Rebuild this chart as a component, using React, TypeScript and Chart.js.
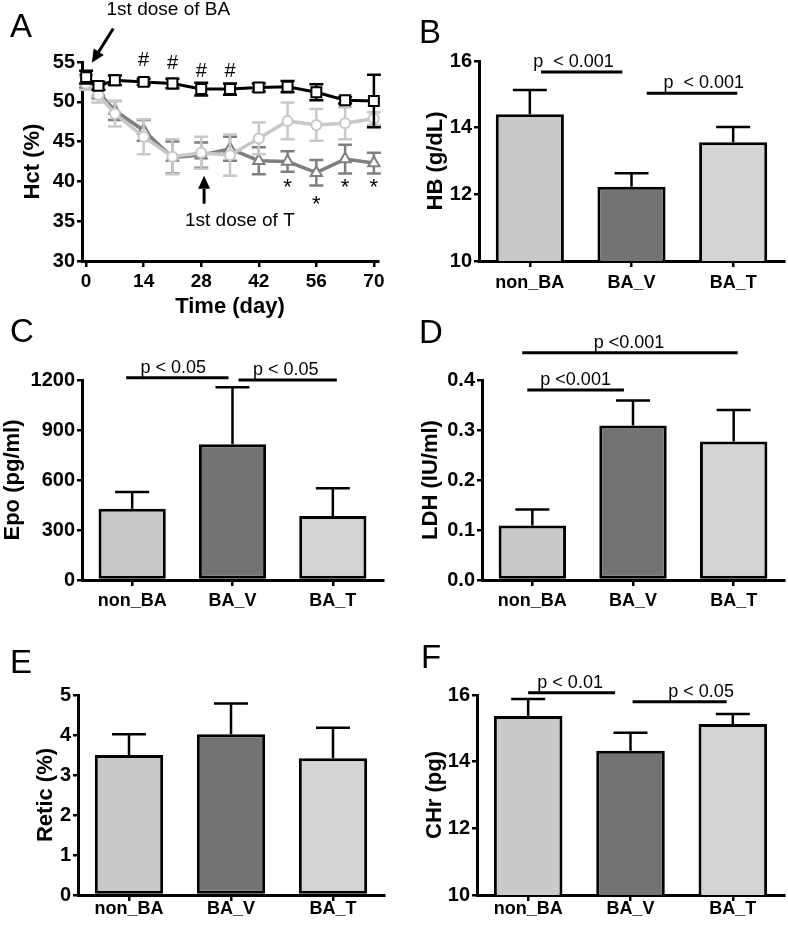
import React, { useEffect, useRef } from 'react';
import { Chart, registerables } from 'chart.js';
Chart.register(...registerables);

const FONT = '"Liberation Sans", Arial, Helvetica, sans-serif';
Chart.defaults.color = '#000';
Chart.defaults.font.family = FONT;

// ---------------- Panel A: Hct time course ----------------
const days = [0, 3, 7, 14, 21, 28, 35, 42, 49, 56, 63, 70];
const hctNonBA = [53.1, 52.0, 52.7, 52.5, 52.3, 51.6, 51.6, 51.8, 51.9, 51.2, 50.2, 50.1];
const hctNonBAErr = [0.8, 0.5, 0.6, 0.4, 0.6, 0.8, 0.7, 0.5, 0.7, 1.0, 0.4, 3.3];
const hctBAT = [52.3, 50.9, 48.5, 45.6, 43.1, 43.6, 43.3, 45.4, 47.6, 47.1, 47.3, 47.9];
const hctBATErr = [0.8, 1.0, 1.6, 2.2, 2.2, 2.0, 2.6, 2.0, 2.3, 2.0, 2.0, 0.8];
const hctBAV = [52.6, 51.2, 48.9, 46.4, 43.0, 43.3, 44.1, 42.6, 42.5, 41.1, 42.8, 42.3];
const hctBAVErr = [0.8, 0.8, 1.2, 1.3, 2.0, 1.6, 1.5, 1.7, 1.3, 1.6, 1.8, 1.3];
const hctXTicks = [0, 14, 28, 42, 56, 70];
const hashDays = [14, 21, 28, 35];
const hashValues = [55.2, 54.8, 53.8, 53.8];
const starDays = [49, 56, 63, 70];
const starValues = [39.7, 37.6, 39.7, 39.7];

// ---------------- Bar panels ----------------
const groups = ['non_BA', 'BA_V', 'BA_T'];
const groupColors = ['#c9c9c9', '#737373', '#d4d4d4'];

const hb = [14.4, 12.23, 13.56];
const hbErr = [0.73, 0.4, 0.46];
const epo = [428, 814, 384];
const epoErr = [100, 342, 166];
const ldh = [0.109, 0.309, 0.277];
const ldhErr = [0.032, 0.05, 0.063];
const retic = [3.5, 4.02, 3.42];
const reticErr = [0.52, 0.77, 0.76];
const chr = [15.37, 14.33, 15.13];
const chrErr = [0.51, 0.54, 0.3];

type Sig = { from: number; to: number; y: number; text: string; tx: number };
const hbSig: Sig[] = [
  { from: 0.11, to: 0.91, y: 15.67, text: 'p  < 0.001', tx: 0.43 },
  { from: 1.15, to: 2.04, y: 15.03, text: 'p  < 0.001', tx: 1.71 },
];
const epoSig: Sig[] = [
  { from: -0.06, to: 0.96, y: 1214, text: 'p < 0.05', tx: 0.41 },
  { from: 1.06, to: 2.04, y: 1200, text: 'p < 0.05', tx: 1.53 },
];
const ldhSig: Sig[] = [
  { from: -0.05, to: 0.91, y: 0.38, text: 'p <0.001', tx: 0.43 },
  { from: -0.1, to: 2.04, y: 0.4545, text: 'p <0.001', tx: 0.96 },
];
const reticSig: Sig[] = [];
const chrSig: Sig[] = [
  { from: 0.0, to: 0.85, y: 16.07, text: 'p < 0.01', tx: 0.41 },
  { from: 1.02, to: 1.94, y: 15.8, text: 'p < 0.05', tx: 1.69 },
];

const xTickFont = { family: FONT, size: 18, weight: 'bold' as const };
const yTickFont = { family: FONT, size: 20, weight: 'bold' as const };
const titleFont = { family: FONT, size: 22, weight: 'bold' as const };

function axisCommon(tickLength: number) {
  return {
    grid: { display: true, drawOnChartArea: false, drawTicks: true, tickLength, color: '#000', lineWidth: 2.5, offset: false },
    border: { display: true, color: '#000', width: 3 },
  };
}

function drawArrow(ctx: CanvasRenderingContext2D, x1: number, y1: number, x2: number, y2: number) {
  const ang = Math.atan2(y2 - y1, x2 - x1);
  const hl = 13, hw = 6;
  const bx = x2 - hl * Math.cos(ang), by = y2 - hl * Math.sin(ang);
  ctx.beginPath();
  ctx.moveTo(x1, y1);
  ctx.lineTo(bx, by);
  ctx.stroke();
  ctx.beginPath();
  ctx.moveTo(x2, y2);
  ctx.lineTo(bx + hw * Math.sin(ang), by - hw * Math.cos(ang));
  ctx.lineTo(bx - hw * Math.sin(ang), by + hw * Math.cos(ang));
  ctx.closePath();
  ctx.fill();
}

function HctPanel() {
  const ref = useRef<HTMLCanvasElement>(null);
  useEffect(() => {
    const errs = [hctNonBAErr, hctBATErr, hctBAVErr];
    const plugin = {
      id: 'hctExtras',
      beforeDatasetDraw(chart: any, args: any) {
        const i = args.index;
        const ds = chart.data.datasets[i];
        const meta = chart.getDatasetMeta(i);
        const y = chart.scales.y;
        const ctx = chart.ctx;
        ctx.save();
        ctx.strokeStyle = ds.borderColor;
        ctx.lineWidth = 2.5;
        meta.data.forEach((pt: any, k: number) => {
          const v = ds.data[k].y;
          const e = errs[i][k];
          const yt = y.getPixelForValue(v + e);
          const yb = y.getPixelForValue(v - e);
          ctx.beginPath();
          ctx.moveTo(pt.x, yt); ctx.lineTo(pt.x, yb);
          ctx.moveTo(pt.x - 7, yt); ctx.lineTo(pt.x + 7, yt);
          ctx.moveTo(pt.x - 7, yb); ctx.lineTo(pt.x + 7, yb);
          ctx.stroke();
        });
        ctx.restore();
      },
      afterDraw(chart: any) {
        const { ctx } = chart;
        const x = chart.scales.x, y = chart.scales.y;
        ctx.save();
        ctx.fillStyle = '#000';
        ctx.strokeStyle = '#000';
        ctx.textAlign = 'center';
        ctx.textBaseline = 'middle';
        ctx.font = `20px ${FONT}`;
        hashDays.forEach((d, k) => ctx.fillText('#', x.getPixelForValue(d), y.getPixelForValue(hashValues[k])));
        ctx.font = `22px ${FONT}`;
        starDays.forEach((d, k) => ctx.fillText('*', x.getPixelForValue(d), y.getPixelForValue(starValues[k]) + 4));
        ctx.font = `19px ${FONT}`;
        ctx.fillText('1st dose of BA', x.getPixelForValue(20), y.getPixelForValue(61.5));
        ctx.fillText('1st dose of T', x.getPixelForValue(37.4), y.getPixelForValue(35.1));
        ctx.lineWidth = 3;
        drawArrow(ctx, x.getPixelForValue(6.6), y.getPixelForValue(59.2), x.getPixelForValue(1.4), y.getPixelForValue(54.9));
        drawArrow(ctx, x.getPixelForValue(28.7), y.getPixelForValue(37.2), x.getPixelForValue(28.7), y.getPixelForValue(40.7));
        ctx.restore();
      },
    };
    const mk = (vals: number[]) => vals.map((v, i) => ({ x: days[i], y: v }));
    const chart = new Chart(ref.current!, {
      type: 'line',
      data: {
        datasets: [
          { data: mk(hctNonBA), borderColor: '#000', borderWidth: 3, pointStyle: 'rect', pointRadius: 7, pointBorderWidth: 2, pointBackgroundColor: '#fff', pointBorderColor: '#000', clip: false } as any,
          { data: mk(hctBAT), borderColor: '#c8c8c8', borderWidth: 3.5, pointStyle: 'circle', pointRadius: 5, pointBorderWidth: 2, pointBackgroundColor: '#fff', pointBorderColor: '#c8c8c8', clip: false } as any,
          { data: mk(hctBAV), borderColor: '#7f7f7f', borderWidth: 3.5, pointStyle: 'triangle', pointRadius: 6.5, pointBorderWidth: 2, pointBackgroundColor: '#fff', pointBorderColor: '#7f7f7f', clip: false } as any,
        ],
      },
      options: {
        animation: false,
        responsive: false,
        devicePixelRatio: 1,
        layout: { padding: { left: 20, top: 62, right: 16, bottom: 0 } },
        plugins: { legend: { display: false }, tooltip: { enabled: false } },
        scales: {
          x: {
            type: 'linear', min: -1, max: 71,
            afterBuildTicks: (s: any) => { s.ticks = hctXTicks.map((v) => ({ value: v })); },
            ticks: { font: { ...xTickFont, size: 19 }, color: '#000', padding: 3, maxRotation: 0 },
            ...axisCommon(6),
            title: { display: true, text: 'Time (day)', font: titleFont, color: '#000', padding: 0 },
            afterFit: (s: any) => { s.height = 59; },
          },
          y: {
            min: 30, max: 55,
            ticks: { stepSize: 5, font: yTickFont, color: '#000', padding: 2 },
            ...axisCommon(5),
            title: { display: true, text: 'Hct (%)', font: titleFont, color: '#000', padding: 0 },
            afterFit: (s: any) => { s.width = 62; },
          },
        } as any,
      },
      plugins: [plugin],
    });
    return () => chart.destroy();
  }, []);
  return <canvas ref={ref} width={394} height={320} style={{ position: 'absolute', left: 0, top: 0, width: 394, height: 320 }} />;
}

type BarProps = {
  box: { left: number; top: number; w: number; h: number };
  pad: { left: number; top: number; right: number; bottom: number };
  yW: number; xH: number; xPad: number;
  values: number[]; errs: number[];
  yMin: number; yMax: number; step: number; dec: number;
  title: string; sigs: Sig[];
};

function BarPanel(p: BarProps) {
  const ref = useRef<HTMLCanvasElement>(null);
  useEffect(() => {
    const plugin = {
      id: 'barExtras',
      afterDatasetsDraw(chart: any) {
        const { ctx } = chart;
        const x = chart.scales.x, y = chart.scales.y;
        const meta = chart.getDatasetMeta(0);
        ctx.save();
        ctx.strokeStyle = '#000';
        ctx.fillStyle = '#000';
        ctx.lineWidth = 2.5;
        meta.data.forEach((bar: any, i: number) => {
          const yt = y.getPixelForValue(p.values[i] + p.errs[i]);
          ctx.beginPath();
          ctx.moveTo(bar.x, bar.y);
          ctx.lineTo(bar.x, yt);
          ctx.moveTo(bar.x - 17, yt);
          ctx.lineTo(bar.x + 17, yt);
          ctx.stroke();
        });
        ctx.lineWidth = 3;
        ctx.font = `18px ${FONT}`;
        ctx.textAlign = 'center';
        ctx.textBaseline = 'alphabetic';
        p.sigs.forEach((s) => {
          const yy = y.getPixelForValue(s.y);
          ctx.beginPath();
          ctx.moveTo(x.getPixelForValue(s.from), yy);
          ctx.lineTo(x.getPixelForValue(s.to), yy);
          ctx.stroke();
          ctx.fillText(s.text, x.getPixelForValue(s.tx), yy - 5);
        });
        ctx.restore();
      },
    };
    const chart = new Chart(ref.current!, {
      type: 'bar',
      data: {
        labels: groups,
        datasets: [{
          data: p.values, backgroundColor: groupColors, borderColor: '#000', borderWidth: 3,
          borderSkipped: false, barPercentage: 0.67, categoryPercentage: 1,
        }],
      },
      options: {
        animation: false,
        responsive: false,
        devicePixelRatio: 1,
        layout: { padding: p.pad },
        plugins: { legend: { display: false }, tooltip: { enabled: false } },
        scales: {
          x: {
            offset: true,
            ticks: { font: xTickFont, color: '#000', padding: p.xPad, maxRotation: 0 },
            ...axisCommon(6),
            afterFit: (s: any) => { s.height = p.xH; },
          },
          y: {
            min: p.yMin, max: p.yMax,
            ticks: { stepSize: p.step, font: yTickFont, color: '#000', padding: 2, callback: (v: any) => Number(v).toFixed(p.dec) },
            ...axisCommon(5),
            title: { display: true, text: p.title, font: titleFont, color: '#000', padding: 0 },
            afterFit: (s: any) => { s.width = p.yW; },
          },
        } as any,
      },
      plugins: [plugin],
    });
    return () => chart.destroy();
  }, []);
  return <canvas ref={ref} width={p.box.w} height={p.box.h} style={{ position: 'absolute', left: p.box.left, top: p.box.top, width: p.box.w, height: p.box.h }} />;
}

const letterStyle = (left: number, top: number): React.CSSProperties => ({
  position: 'absolute', left, top, fontFamily: FONT, fontSize: 33, lineHeight: '33px', color: '#000',
});

export default function App() {
  return (
    <div style={{ position: 'absolute', left: 0, top: 0, width: 788, height: 925, background: '#fff', overflow: 'hidden' }}>
      <HctPanel />
      <BarPanel box={{ left: 394, top: 0, w: 394, h: 320 }} pad={{ left: 28.5, top: 61, right: 4, bottom: 0 }} yW={56.5} xH={59} xPad={5}
        values={hb} errs={hbErr} yMin={10} yMax={16} step={2} dec={0} title="HB (g/dL)" sigs={hbSig} />
      <BarPanel box={{ left: 0, top: 320, w: 394, h: 295 }} pad={{ left: 0, top: 60, right: 11, bottom: 0 }} yW={82} xH={35} xPad={4}
        values={epo} errs={epoErr} yMin={0} yMax={1200} step={300} dec={0} title="Epo (pg/ml)" sigs={epoSig} />
      <BarPanel box={{ left: 394, top: 320, w: 394, h: 295 }} pad={{ left: 24, top: 60, right: 4, bottom: 0 }} yW={64} xH={35} xPad={4}
        values={ldh} errs={ldhErr} yMin={0} yMax={0.4} step={0.1} dec={1} title="LDH (IU/ml)" sigs={ldhSig} />
      <BarPanel box={{ left: 0, top: 615, w: 394, h: 310 }} pad={{ left: 33, top: 80, right: 10, bottom: 0 }} yW={45} xH={30} xPad={-3}
        values={retic} errs={reticErr} yMin={0} yMax={5} step={1} dec={0} title="Retic (%)" sigs={reticSig} />
      <BarPanel box={{ left: 394, top: 615, w: 394, h: 310 }} pad={{ left: 28, top: 80, right: 4, bottom: 0 }} yW={55} xH={30} xPad={-3}
        values={chr} errs={chrErr} yMin={10} yMax={16} step={2} dec={0} title="CHr (pg)" sigs={chrSig} />
      <div style={letterStyle(10, 9)}>A</div>
      <div style={letterStyle(419, 15)}>B</div>
      <div style={letterStyle(10, 314)}>C</div>
      <div style={letterStyle(419, 315)}>D</div>
      <div style={letterStyle(10, 645)}>E</div>
      <div style={letterStyle(421, 640)}>F</div>
    </div>
  );
}
